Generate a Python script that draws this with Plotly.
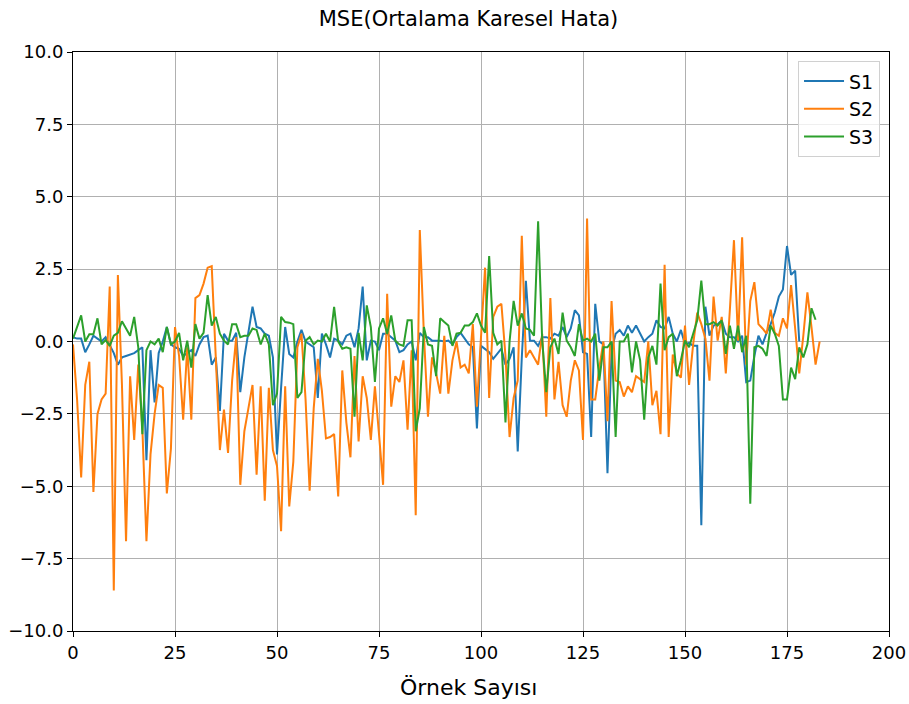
import plotly.graph_objects as go

s1 = [0.15, 0.1, 0.1, -0.37, -0.1, 0.2, 0.1, 0.0, 0.15, -0.1,
      -0.4, -0.8, -0.55, -0.5, -0.45, -0.4, -0.3, -0.2, -4.1, -0.3,
      -2.1, -0.4, 0.0, 0.5, -0.1, -0.2, -0.25, -0.5, -0.4, -0.3,
      -0.5, -0.1, 0.15, 0.2, -0.8, -0.55, -2.4, 0.27, 0.03, 0.03,
      0.3, -1.75, -0.55, 0.3, 1.2, 0.5, 0.45, 0.27, 0.2, -0.55,
      -3.9, -1.6, 0.5, -0.43, -0.55, 0.0, 0.4, 0.0, -0.1, -0.2,
      -1.95, 0.27, -0.1, -0.55, 0.1, 0.03, -0.1, 0.2, 0.27, -0.2,
      0.45, 1.9, -0.65, 0.03, 0.0, -0.3, 0.27, 0.27, 0.15, 0.03,
      -0.37, -0.3, -0.1, 0.0, -0.65, 0.3, 0.15, 0.15, 0.03, 0.03,
      0.03, 0.0, 0.03, -0.1, 0.15, 0.3, 0.1, -0.1, -0.2, -3.0,
      -0.15, -0.25, -0.37, -0.6, -0.43, -0.25, -0.8, -0.6, -0.2, -3.8,
      -0.55, 2.1, 0.03, 0.03, -0.15, 0.15, 0.15, 0.1, 0.27, 0.2,
      0.5, 0.15, 0.45, 1.08, 0.9, -0.37, -0.43, -3.3, 1.3, 0.0,
      -0.1, -4.55, -0.3, 0.27, 0.4, 0.2, 0.55, 0.3, 0.55, 0.27,
      0.0, 0.15, 0.27, 0.73, 0.5, 0.45, 0.85, 0.27, 0.0, 0.4,
      -0.1, -0.05, -0.15, -0.15, -6.35, 1.2, 0.2, 0.55, 0.6, 0.73,
      0.27, 0.15, 0.15, 0.0, 0.2, -1.4, -1.35, -0.5, 0.2, -0.1,
      0.3, 0.6, 1.0, 1.55, 1.8, 3.3, 2.3, 2.45, 0.0]

s2 = [-0.1, -2.0, -4.7, -1.5, -0.7, -5.2, -2.5, -2.0, -1.8, 1.9,
      -8.6, 2.3, -1.5, -6.9, -1.2, -3.4, -0.8, -3.0, -6.9, -3.9,
      -2.5, -1.5, -1.6, -5.25, -3.7, 0.5, -0.5, -2.7, -0.2, -2.7,
      1.5, 1.6, 2.0, 2.55, 2.6, -0.65, -3.75, -2.35, -3.85, -1.35,
      0.15, -4.95, -3.1, -2.3, -1.5, -4.6, -1.55, -5.5, -1.6, -3.75,
      -4.3, -6.55, -1.55, -5.7, -4.15, -0.2, 0.27, -2.0, -5.15, -2.3,
      -0.6, -1.7, -3.35, -3.3, -3.2, -5.35, -1.0, -2.8, -4.0, -0.5,
      -3.45, -1.2, -1.95, -3.4, -1.55, -3.2, -4.95, 1.65, -2.25, -1.2,
      -1.4, -0.65, -3.05, -0.3, -6.0, 3.85, 0.27, -2.6, -0.55, -1.1,
      -1.8, 0.2, -1.8, -0.65, 0.0, -0.9, -0.8, -1.1, 0.6, -2.25,
      0.27, 2.55, -1.95, 0.85, 1.2, 1.3, -0.5, -3.3, -1.95, -1.35,
      3.65, -0.55, -0.3, -0.55, -0.8, 0.27, -2.6, 1.5, -2.0, -0.7,
      -2.2, -2.6, -1.35, -0.65, -1.0, -3.4, 4.25, -2.0, -2.0, -0.9,
      0.0, -2.75, 1.4, -1.35, -1.4, -1.9, -1.55, -1.75, -1.2, -1.3,
      -1.4, 0.0, -2.2, -1.7, -3.2, 2.65, -3.3, -0.45, -1.1, -1.25,
      0.55, -1.5, -0.1, 1.0, 0.6, 0.1, -1.35, 1.55, 0.03, 0.85,
      -1.1, 1.1, 3.5, 0.03, 3.6, -0.8, 1.4, 2.05, 0.6, 0.45,
      0.27, 1.1, 0.3, 0.2, 0.8, 0.45, 1.95, 0.45, -1.1, 0.2,
      1.7, 0.5, -0.8, 0.0]

s3 = [0.1, 0.5, 0.9, 0.0, 0.25, 0.25, 0.8, -0.1, 0.05, -0.15,
      0.2, 0.3, 0.7, 0.45, 0.2, 0.85, -0.2, -3.2, -0.3, 0.0,
      -0.1, 0.1, -0.37, 0.5, -0.1, 0.0, 0.3, -0.65, 0.03, -0.9,
      0.6, 0.1, 0.3, 1.6, 0.55, 0.85, 0.27, 0.03, -0.1, 0.6,
      0.6, 0.15, 0.2, 0.2, 0.45, 0.4, -0.1, 0.27, -0.1, -2.2,
      -1.8, 0.85, 0.67, 0.65, 0.6, -1.95, -1.75, 0.03, 0.15, -0.1,
      0.03, 0.0, 0.27, 0.0, 1.2, 0.0, -0.25, -0.2, -0.25, -2.6,
      0.3, -0.65, 1.25, 0.5, -1.4, 0.45, 0.8, 0.27, 0.9, 0.03,
      -0.1, -0.15, 0.73, 0.73, -3.1, -2.3, 0.5, -0.1, -0.15, -1.2,
      0.8, 0.67, 0.55, -0.15, 0.27, 0.3, 0.55, 0.55, 0.67, 0.97,
      0.55, 0.3, 2.95, 0.3, -0.1, 0.03, -2.8, 0.0, 1.4, 0.55,
      0.97, 0.45, 0.4, 0.2, 4.15, 0.03, -1.75, -0.2, 0.1, -0.43,
      1.0, 0.03, -0.2, -0.5, 0.6, 0.03, 0.1, 0.0, 0.27, -1.35,
      -0.2, -0.2, 0.0, -3.3, 0.0, 0.0, 0.27, -1.07, 0.0, -0.65,
      -2.7, -0.55, -0.15, -0.8, 2.0, -0.3, 0.15, 0.27, -1.2, -0.65,
      0.03, -0.2, 0.27, 0.73, 2.1, 0.6, 0.6, 0.67, 0.55, 0.73,
      -0.43, 0.55, -0.25, 0.55, -0.37, 0.2, -5.6, -0.2, -0.15, -0.25,
      -0.5, 0.55, 0.27, -0.15, -2.0, -2.0, -0.9, -1.3, -0.2, -0.55,
      -0.1, 1.15, 0.75]

series = [("S1", s1, "#1f77b4"), ("S2", s2, "#ff7f0e"), ("S3", s3, "#2ca02c")]

x_ticks = [0, 25, 50, 75, 100, 125, 150, 175, 200]
y_ticks = [10.0, 7.5, 5.0, 2.5, 0.0, -2.5, -5.0, -7.5, -10.0]
y_tick_text = [("\u2212" if v < 0 else "") + f"{abs(v):.1f}" for v in y_ticks]

title_text = "MSE(Ortalama Karesel Hata)"
xlabel_text = "Örnek Sayısı"

FONT = "DejaVu Sans"

fig = go.Figure()
for name, vals, color in series:
    fig.add_trace(go.Scatter(
        x=list(range(len(vals))), y=vals, mode="lines", name=name,
        line=dict(color=color, width=2),
    ))

axis_common = dict(
    showline=True, linecolor="black", linewidth=1, mirror=True,
    ticks="outside", ticklen=5, tickwidth=1, tickcolor="black",
    showgrid=True, gridcolor="#b0b0b0", gridwidth=1, zeroline=False,
    tickfont=dict(family=FONT, size=18, color="black"),
    automargin=False,
)

fig.update_layout(
    width=909, height=704,
    margin=dict(l=73, r=20, t=52, b=73),
    paper_bgcolor="white", plot_bgcolor="white",
    font=dict(family=FONT, color="black"),
    title=dict(text=title_text, x=0.4847, xref="paper", xanchor="center",
               y=1 - 19 / 704, yref="container", yanchor="middle",
               font=dict(family=FONT, size=21, color="black")),
    xaxis=dict(range=[0, 200], tickvals=x_ticks, **axis_common),
    yaxis=dict(range=[-10, 10], tickvals=y_ticks, ticktext=y_tick_text, **axis_common),
    legend=dict(x=0.989, y=0.984, xanchor="right", yanchor="top",
                bgcolor="rgba(255,255,255,0.8)", bordercolor="#d0d0d0", borderwidth=1,
                tracegroupgap=0, itemwidth=40,
                font=dict(family=FONT, size=19, color="black")),
    showlegend=True,
    annotations=[dict(text=xlabel_text, x=0.4847, xref="paper", xanchor="center",
                      y=-56 / 579, yref="paper", yanchor="middle", showarrow=False,
                      font=dict(family=FONT, size=22, color="black"))],
)

fig.write_html("out.html")
